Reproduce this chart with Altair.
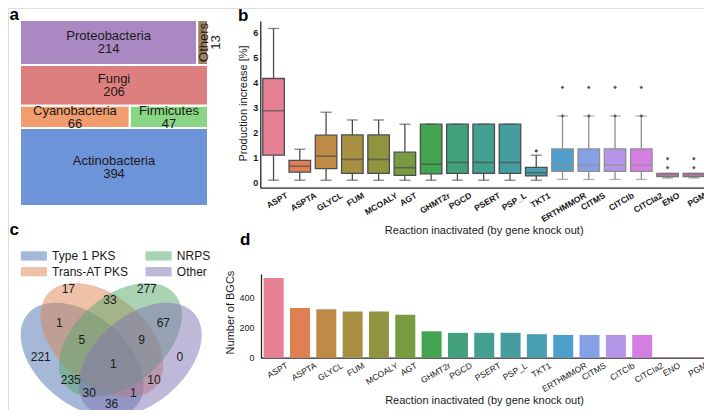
import math
import colorsys
import altair as alt
import pandas as pd

FONT = "Liberation Sans"
INK = "#1a1a1a"

# ---------------- data ----------------
# (a) treemap: taxonomic origin of BGCs
tm_names = ["Proteobacteria", "Others", "Fungi", "Cyanobacteria", "Firmicutes", "Actinobacteria"]
tm_values = [214, 13, 206, 66, 47, 394]
tm_rows = [0, 0, 1, 2, 2, 3]
tm_colors = ["#956cb4", "#8c613c", "#d65f5f", "#ee854a", "#6acc64", "#4878d0"]

# (b) production increase per inactivated reaction (box statistics)
reactions = ["ASPT", "ASPTA", "GLYCL", "FUM", "MCOALY", "AGT", "GHMT2r", "PGCD", "PSERT",
             "PSP_L", "TKT1", "ERTHMMOR", "CITMS", "CITCIb", "CITCIa2", "ENO", "PGM"]
box_low = [0.10, 0.10, 0.10, 0.10, 0.10, 0.10, 0.10, 0.10, 0.10, 0.10, 0.10, 0.13, 0.13, 0.13, 0.13, 0.19, 0.19]
box_q1 = [1.10, 0.42, 0.56, 0.37, 0.37, 0.29, 0.35, 0.37, 0.37, 0.37, 0.27, 0.45, 0.45, 0.45, 0.45, 0.24, 0.24]
box_med = [2.88, 0.66, 1.06, 0.93, 0.93, 0.60, 0.74, 0.81, 0.81, 0.81, 0.40, 0.70, 0.70, 0.70, 0.70, 0.31, 0.31]
box_q3 = [4.17, 0.89, 1.90, 1.91, 1.91, 1.22, 2.34, 2.34, 2.34, 2.34, 0.61, 1.35, 1.35, 1.35, 1.35, 0.37, 0.37]
box_high = [6.17, 1.34, 2.82, 2.51, 2.51, 2.34, 2.34, 2.34, 2.34, 2.34, 1.10, 2.67, 2.67, 2.67, 2.67, 0.37, 0.37]
flier_reaction = ["TKT1", "ERTHMMOR", "ERTHMMOR", "CITMS", "CITMS", "CITCIb", "CITCIb",
                  "CITCIa2", "CITCIa2", "ENO", "ENO", "PGM", "PGM"]
flier_value = [1.27, 2.67, 3.81, 2.67, 3.81, 2.67, 3.81, 2.67, 3.81, 0.60, 0.96, 0.60, 0.96]

# (d) number of BGCs per inactivated reaction
bgc_counts = [529, 329, 321, 307, 306, 285, 175, 165, 165, 165, 156, 151, 151, 151, 151, 3, 3]

# (c) Venn diagram of BGC classes
venn_sets = ["Type 1 PKS", "Trans-AT PKS", "NRPS", "Other"]
venn_set_colors = ["#4c72b0", "#dd8452", "#55a868", "#8172b3"]
venn_center_u = [0.350, 0.450, 0.544, 0.644]
venn_center_v = [0.400, 0.500, 0.500, 0.400]
venn_angle = [40, 40, 140, 140]
venn_counts = [17, 277, 33, 1, 67, 5, 9, 221, 0, 1, 235, 10, 30, 1, 36]
venn_label_u = [0.280, 0.677, 0.491, 0.234, 0.761, 0.348, 0.651, 0.140, 0.845, 0.508, 0.292, 0.714, 0.386, 0.609, 0.499]
venn_label_v = [0.757, 0.757, 0.703, 0.585, 0.585, 0.500, 0.500, 0.415, 0.415, 0.378, 0.297, 0.297, 0.233, 0.233, 0.178]


# ---------------- colour helpers (seaborn husl palette) ----------------
_M = [[3.2406, -1.5372, -0.4986], [-0.9689, 1.8758, 0.0415], [0.0557, -0.2040, 1.0570]]


def _max_chroma(L, H):
    hrad = math.radians(H)
    sinH, cosH = math.sin(hrad), math.cos(hrad)
    sub1 = (L + 16) ** 3 / 1560896.0
    sub2 = sub1 if sub1 > 0.008856 else L / 903.3
    result = float("inf")
    for m1, m2, m3 in _M:
        top = (0.99915 * m1 + 1.05122 * m2 + 1.14460 * m3) * sub2
        rbottom = 0.86330 * m3 - 0.17266 * m2
        lbottom = 0.12949 * m3 - 0.38848 * m1
        bottom = (rbottom * sinH + lbottom * cosH) * sub2
        for t in (0.0, 1.0):
            C = L * (top - 1.05122 * t) / (bottom + 0.17266 * sinH * t)
            if 0.0 < C < result:
                result = C
    return result


def husl_rgb(H, S, L):
    C = _max_chroma(L, H) / 100.0 * S
    hr = math.radians(H)
    U, V = math.cos(hr) * C, math.sin(hr) * C
    t = (L + 16.0) / 116.0
    Y = t ** 3 if t ** 3 > 0.008856 else (116.0 * t - 16.0) / 903.3
    varU = U / (13.0 * L) + 0.19784
    varV = V / (13.0 * L) + 0.46834
    X = -(9.0 * Y * varU) / ((varU - 4.0) * varV - varU * varV)
    Z = (9.0 * Y - 15.0 * varV * Y - varV * X) / (3.0 * varV)
    out = []
    for row in _M:
        c = row[0] * X + row[1] * Y + row[2] * Z
        c = 12.92 * c if c <= 0.0031308 else 1.055 * c ** (1 / 2.4) - 0.055
        out.append(min(max(c, 0.0), 1.0))
    return out


def to_hex(rgb):
    return "#%02x%02x%02x" % tuple(int(round(v * 255)) for v in rgb)


def desat(rgb, prop):
    h, l, s = colorsys.rgb_to_hls(*rgb)
    return colorsys.hls_to_rgb(h, l, s * prop)


n = len(reactions)
palette = [to_hex(desat(husl_rgb(((i / n) + 0.01) % 1 * 359, 0.9 * 99, 0.65 * 99), 0.75)) for i in range(n)]
edge_colors = ["#4d4d4d"] * 11 + ["#8f8f8f"] * 4 + ["#767676"] * 2
edge_of = dict(zip(reactions, edge_colors))

# ---------------- tables ----------------
tm_total = sum(tm_values)
row_sum = {}
for r, v in zip(tm_rows, tm_values):
    row_sum[r] = row_sum.get(r, 0) + v
row_top, acc = {}, 0.0
for r in sorted(row_sum):
    row_top[r] = acc
    acc += row_sum[r] / tm_total
row_fill = {r: 0.0 for r in row_sum}
recs = []
for name, v, r in zip(tm_names, tm_values, tm_rows):
    w = v / row_sum[r]
    h = row_sum[r] / tm_total
    x0 = row_fill[r]
    row_fill[r] += w
    recs.append(dict(name=name, x0=x0, x1=x0 + w, y0=row_top[r], y1=row_top[r] + h,
                     xc=x0 + w / 2, yc=row_top[r] + h / 2, label=f"{name}\n{v}", narrow=w < 0.2))
tm_df = pd.DataFrame(recs)

b_df = pd.DataFrame(dict(reaction=reactions, low=box_low, q1=box_q1, med=box_med, q3=box_q3,
                         high=box_high, fill=palette, edge=edge_colors))
fl_df = pd.DataFrame(dict(reaction=flier_reaction, value=flier_value,
                          edge=[("#4d4d4d" if edge_of[r] == "#4d4d4d" else "#5e5e5e") for r in flier_reaction]))
d_df = pd.DataFrame(dict(reaction=reactions, count=bgc_counts, fill=palette))
ell_df = pd.DataFrame(dict(set=venn_sets, u=venn_center_u, v=venn_center_v, angle=venn_angle))
vt_df = pd.DataFrame(dict(u=venn_label_u, v=venn_label_v, count=[str(c) for c in venn_counts]))
one = pd.DataFrame({"k": [0]})

# ---------------- scales (pixel ranges inside the 696x402 canvas) ----------------
W, H = 696, 402
tm_x = alt.Scale(domain=[0, 1], range=[12, 200], nice=False, zero=False)
tm_y = alt.Scale(domain=[0, 1], range=[12, 198], nice=False, zero=False)
b_x = alt.Scale(domain=reactions, range=[252.4, 699], paddingInner=0, paddingOuter=0)
b_y = alt.Scale(domain=[-0.2, 6.47], range=[179.7, 13], nice=False, zero=False)
d_x = alt.Scale(domain=reactions, range=[252.5, 700], paddingInner=0, paddingOuter=0)
d_y = alt.Scale(domain=[0, 555], range=[349.7, 266], nice=False, zero=False)
v_x = alt.Scale(domain=[0, 1], range=[5.1, 202.5], nice=False, zero=False)
v_y = alt.Scale(domain=[0, 1], range=[430.7, 233.3], nice=False, zero=False)

LABEL_SHIFT = {"expr": "2.35*length(datum.label)+2"}


def x_axis(offset, weight, tx, ty):
    return alt.Axis(orient="bottom", offset=offset, ticks=False, grid=False, domainColor="#262626",
                    domainWidth=1.3, labelAngle=330, labelAlign="right", labelBaseline="top",
                    labelPadding=3, labelOffset=LABEL_SHIFT, labelOverlap=False, labelFont=FONT,
                    labelFontSize=8.5, labelFontWeight=weight, labelColor=INK,
                    title="Reaction inactivated (by gene knock out)", titleFont=FONT, titleFontSize=11,
                    titleFontWeight="normal", titleColor=INK, titleX=tx, titleY=ty, titleBaseline="middle")


def y_axis(offset, values, weight, pad, title, tx, ty):
    return alt.Axis(orient="left", offset=offset, ticks=False, grid=False, domainColor="#262626",
                    domainWidth=1.3, values=values, format="d", labelPadding=pad, labelFont=FONT,
                    labelFontSize=9, labelFontWeight=weight, labelColor=INK, title=title,
                    titleFont=FONT, titleFontSize=11, titleFontWeight="normal", titleColor=INK,
                    titleAngle=270, titleX=tx, titleY=ty, titleBaseline="middle", titleAlign="center")


# ---------------- (a) treemap ----------------
tm_rect = alt.Chart(tm_df).mark_rect(stroke="white", strokeWidth=2, fillOpacity=0.8).encode(
    x=alt.X("x0:Q", scale=tm_x, axis=None), x2="x1:Q",
    y=alt.Y("y0:Q", scale=tm_y, axis=None), y2="y1:Q",
    fill=alt.Fill("name:N", scale=alt.Scale(domain=tm_names, range=tm_colors), legend=None))
tm_text = alt.Chart(tm_df[~tm_df.narrow]).mark_text(
    font=FONT, fontSize=13, lineBreak="\n", lineHeight=13, color=INK, dy=-6).encode(
    x=alt.X("xc:Q", scale=tm_x, axis=None), y=alt.Y("yc:Q", scale=tm_y, axis=None), text="label:N")
tm_text_rot = alt.Chart(tm_df[tm_df.narrow]).mark_text(
    font=FONT, fontSize=13, lineBreak="\n", lineHeight=12, color=INK, angle=270, dy=1).encode(
    x=alt.X("xc:Q", scale=tm_x, axis=None), y=alt.Y("yc:Q", scale=tm_y, axis=None), text="label:N")

# ---------------- (b) box plot ----------------
bX = alt.X("reaction:N", scale=b_x, axis=None, sort=reactions)
whisk_lo = alt.Chart(b_df).mark_rule(strokeWidth=1.3).encode(
    x=bX, y=alt.Y("low:Q", scale=b_y, axis=None), y2="q1:Q", color=alt.Color("edge:N", scale=None))
whisk_hi = alt.Chart(b_df).mark_rule(strokeWidth=1.3).encode(
    x=bX, y=alt.Y("q3:Q", scale=b_y, axis=None), y2="high:Q", color=alt.Color("edge:N", scale=None))
caps = alt.Chart(b_df).transform_fold(["low", "high"], as_=["which", "val"]).mark_tick(
    orient="horizontal", size=11, thickness=1.3).encode(
    x=bX, y=alt.Y("val:Q", scale=b_y, axis=None), color=alt.Color("edge:N", scale=None))
boxes = alt.Chart(b_df).mark_bar(width=alt.RelativeBandSize(0.82), strokeWidth=1.3).encode(
    x=alt.X("reaction:N", scale=b_x, sort=reactions, axis=x_axis(-222.3, "bold", 475.7, 42.3)),
    y=alt.Y("q1:Q", scale=b_y,
            axis=y_axis(-252.3, [0, 1, 2, 3, 4, 5, 6], "bold", 2.5, "Production increase [%]", -16.3, 95)),
    y2="q3:Q",
    fill=alt.Fill("fill:N", scale=None), stroke=alt.Stroke("edge:N", scale=None))
medians = alt.Chart(b_df).mark_tick(orient="horizontal", size=21.5, thickness=1.6).encode(
    x=bX, y=alt.Y("med:Q", scale=b_y, axis=None), color=alt.Color("edge:N", scale=None))
fliers = alt.Chart(fl_df).mark_point(shape="diamond", filled=True, size=14, opacity=1).encode(
    x=bX, y=alt.Y("value:Q", scale=b_y, axis=None), color=alt.Color("edge:N", scale=None))

# ---------------- (d) bars ----------------
bars = alt.Chart(d_df).mark_bar(width=alt.RelativeBandSize(0.76)).encode(
    x=alt.X("reaction:N", scale=d_x, sort=reactions, axis=x_axis(-52.3, "normal", 476, 43)),
    y=alt.Y("count:Q", scale=d_y, axis=y_axis(-253, [0, 200, 400], "normal", 7, "Number of BGCs", -31, 304)),
    fill=alt.Fill("fill:N", scale=None))

# ---------------- (c) Venn ----------------
ELLIPSE = ("M-1,0C-1,-0.3452,-0.5523,-0.625,0,-0.625C0.5523,-0.625,1,-0.3452,1,0"
           "C1,0.3452,0.5523,0.625,0,0.625C-0.5523,0.625,-1,0.3452,-1,0Z")
ellipses = alt.Chart(ell_df).mark_point(shape=ELLIPSE, filled=True, size=20200, opacity=0.5, strokeWidth=0).encode(
    x=alt.X("u:Q", scale=v_x, axis=None), y=alt.Y("v:Q", scale=v_y, axis=None),
    angle=alt.Angle("angle:Q", scale=None),
    color=alt.Color("set:N", scale=alt.Scale(domain=venn_sets, range=venn_set_colors),
                    legend=alt.Legend(orient="none", legendX=16.4, legendY=238.2, columns=2, title=None,
                                      symbolType="M-1.4,-0.5H1.4V0.5H-1.4Z", symbolSize=346,
                                      symbolOpacity=0.5, symbolStrokeWidth=0, labelFont=FONT,
                                      labelFontSize=12, labelColor=INK, labelOffset=8.7, rowPadding=0,
                                      columnPadding=16.7, padding=0)))
venn_text = alt.Chart(vt_df).mark_text(font=FONT, fontSize=12, color=INK).encode(
    x=alt.X("u:Q", scale=v_x, axis=None), y=alt.Y("v:Q", scale=v_y, axis=None), text="count:N")


# ---------------- panel letters ----------------
def letter(t, x, y):
    return alt.Chart(one).mark_text(font=FONT, fontSize=17, fontWeight="bold", color="black",
                                    align="left", baseline="alphabetic").encode(
        x=alt.value(x), y=alt.value(y), text=alt.value(t))


chart = alt.layer(
    tm_rect, tm_text, tm_text_rot,
    whisk_lo, whisk_hi, caps, boxes, medians, fliers,
    bars,
    ellipses, venn_text,
    letter("a", 1.5, 12), letter("b", 230, 13), letter("c", 1.5, 227), letter("d", 232, 237),
).resolve_scale(
    x="independent", y="independent", color="independent", fill="independent",
    stroke="independent", angle="independent"
).resolve_axis(x="independent", y="independent").properties(
    width=W, height=H, autosize=alt.AutoSizeParams(type="none"), padding=0
).configure_view(stroke=None).configure(font=FONT)

chart.save("out.html", embed_options={"renderer": "svg", "actions": False})
